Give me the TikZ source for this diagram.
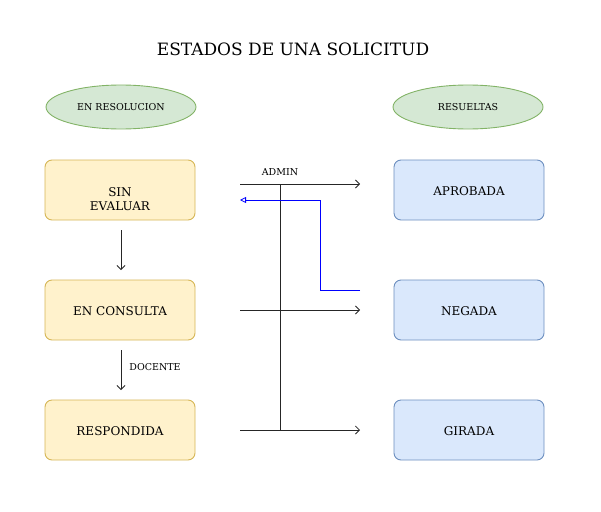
\documentclass[tikz,border=0pt]{standalone}
\usepackage{fontspec}
\setmainfont{DejaVu Serif}
\usetikzlibrary{arrows.meta,shapes.geometric}
\definecolor{gfill}{HTML}{D5E8D4}\definecolor{gline}{HTML}{82B366}
\definecolor{yfill}{HTML}{FFF2CC}\definecolor{yline}{HTML}{D6B656}
\definecolor{bfill}{HTML}{DAE8FC}\definecolor{bline}{HTML}{6C8EBF}
\begin{document}
\begin{tikzpicture}[x=1pt,y=-1pt,
  grp/.style={ellipse,draw=gline,fill=gfill,line width=0.9pt,minimum width=150pt,minimum height=44pt,inner sep=0pt,font=\fontsize{9.5}{11}\selectfont},
  pend/.style={rounded corners=7pt,draw=yline,fill=yfill,line width=0.9pt,minimum width=150pt,minimum height=60pt,inner sep=0pt},
  done/.style={rounded corners=7pt,draw=bline,fill=bfill,line width=0.9pt,minimum width=150pt,minimum height=60pt,inner sep=0pt},
  txt/.style={font=\fontsize{12}{14}\selectfont,align=center,inner sep=0pt},
  conn/.style={draw=black!85,line width=0.8pt,-{Straight Barb[length=4pt,width=8pt]}},
  lbl/.style={font=\fontsize{9.5}{11}\selectfont,inner sep=0pt}]
\useasboundingbox (0,0) rectangle (601,511);
\node[font=\fontsize{17}{20}\selectfont] (title) at (293,49) {ESTADOS DE UNA SOLICITUD};
\node[grp] (res) at (121,107) {EN RESOLUCION};
\node[grp] (resu) at (468,107) {RESUELTAS};
\node[pend] (sin) at (120,190) {};
\node[txt] (sint) at (120,199) {SIN\\EVALUAR};
\node[pend] (cons) at (120,310) {};
\node[txt] (const) at (120,311.5) {EN CONSULTA};
\node[pend] (resp) at (120,430) {};
\node[txt] (respt) at (120,431.5) {RESPONDIDA};
\node[done] (apr) at (469,190) {};
\node[txt] (aprt) at (469,191.5) {APROBADA};
\node[done] (neg) at (469,310) {};
\node[txt] (negt) at (469,311.5) {NEGADA};
\node[done] (gir) at (469,430) {};
\node[txt] (girt) at (469,431.5) {GIRADA};
\coordinate (a1) at (121,230); \coordinate (a2) at (121,270);
\coordinate (d1) at (121,350); \coordinate (d2) at (121,390);
\draw[conn] (a1) -- (a2);
\draw[conn] (d1) -- (d2);
\node[lbl] (doc) at (155,367.5) {DOCENTE};
\coordinate (h1s) at (240,184); \coordinate (h1e) at (360,184);
\coordinate (h2s) at (240,310); \coordinate (h2e) at (360,310);
\coordinate (h3s) at (240,430); \coordinate (h3e) at (360,430);
\coordinate (vt) at (280,184); \coordinate (vb) at (280,430);
\draw[conn] (h1s) -- (h1e);
\draw[conn] (h2s) -- (h2e);
\draw[conn] (h3s) -- (h3e);
\draw[draw=black!85,line width=0.8pt] (vt) -- (vb);
\node[lbl] (adm) at (280,172.5) {ADMIN};
\coordinate (b1) at (360,290); \coordinate (b2) at (320,290);
\coordinate (b3) at (320,200); \coordinate (b4) at (240,200);
\draw[blue,line width=0.8pt,-{Triangle[open,length=6pt,width=6pt]}] (b1) -- (b2) -- (b3) -- (b4);
\end{tikzpicture}
\end{document}
